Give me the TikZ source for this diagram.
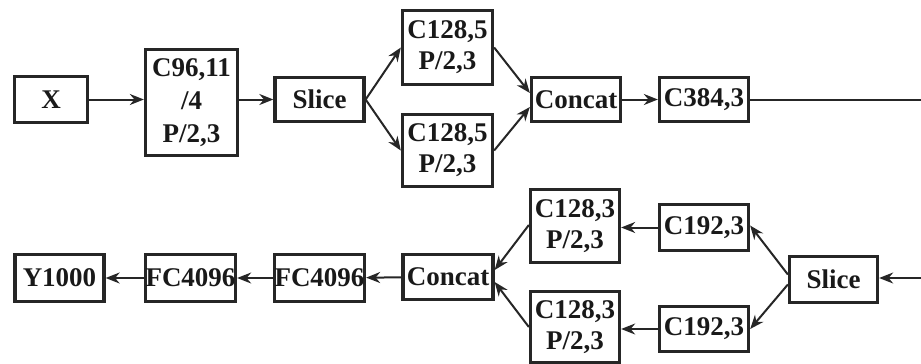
\documentclass[tikz,border=0pt]{standalone}
\usepackage{fontspec}
\setmainfont{Liberation Serif}
\usetikzlibrary{arrows.meta}
\begin{document}
\begin{tikzpicture}[x=1pt,y=-1pt,
  blk/.style={draw=black!85, line width=3.3pt, inner sep=0pt, align=center,
    font=\fontsize{27}{31}\selectfont\bfseries, text=black!90},
  arr/.style={line width=2pt, draw=black!85, -{Stealth[length=14pt,width=11pt]}},
  ln/.style={line width=2pt, draw=black!85}]
\useasboundingbox (0,0) rectangle (921,364);
% top row
\node[blk, minimum width=73pt, minimum height=46pt] (x) at (51,99.5) {X};
\node[blk, minimum width=92pt, minimum height=106pt] (c96) at (191.5,102.5) {C96,11\\[2pt]/4\\[2pt]P/2,3};
\node[blk, minimum width=89pt, minimum height=44pt] (s1) at (319.5,99.5) {Slice};
\node[blk, minimum width=90pt, minimum height=74pt] (ca) at (447.5,47.5) {C128,5\\P/2,3};
\node[blk, minimum width=90pt, minimum height=72pt] (cb) at (447.5,150.5) {C128,5\\P/2,3};
\node[blk, minimum width=89pt, minimum height=44pt] (cc1) at (576,99.5) {Concat};
\node[blk, minimum width=89pt, minimum height=44pt] (c384) at (704,99.5) {C384,3};
\coordinate (r1) at (921,99.5);
% bottom row
\node[blk, minimum width=89pt, minimum height=47pt] (y) at (59.5,278) {Y1000};
\node[blk, minimum width=90pt, minimum height=47pt] (f1) at (190.5,278) {FC4096};
\node[blk, minimum width=89pt, minimum height=47pt] (f2) at (319.5,278) {FC4096};
\node[blk, minimum width=90pt, minimum height=45pt] (cc2) at (448,277) {Concat};
\node[blk, minimum width=89pt, minimum height=73pt] (d1) at (575,226) {C128,3\\P/2,3};
\node[blk, minimum width=89pt, minimum height=71pt] (d2) at (575,327) {C128,3\\P/2,3};
\node[blk, minimum width=89pt, minimum height=46pt] (e1) at (704,227.5) {C192,3};
\node[blk, minimum width=89pt, minimum height=45pt] (e2) at (704,329) {C192,3};
\node[blk, minimum width=88pt, minimum height=46pt] (s2) at (833.5,279.5) {Slice};
\coordinate (r2) at (921,278);
% top connectors
\draw[arr] (x) -- (c96.west |- x);
\draw[arr] (c96.east |- s1.west) -- (s1.west);
\draw[arr] (s1.east) -- (ca.west);
\draw[arr] (s1.east) -- (cb.west);
\draw[arr] (ca.east) -- ([yshift=6.5pt]cc1.west);
\draw[arr] (cb.east) -- ([yshift=-7.5pt]cc1.west);
\draw[arr] (cc1) -- (c384);
\draw[ln] (c384.east) -- (r1);
% bottom connectors
\draw[arr] (r2) -- (s2.east |- r2);
\draw[arr] ([yshift=5pt]s2.west) -- ([yshift=2pt]e1.east);
\draw[arr] ([yshift=-5pt]s2.west) -- (e2.east);
\draw[arr] (e1.west) -- (d1.east |- e1.west);
\draw[arr] (e2.west) -- (d2.east |- e2.west);
\draw[arr] ([yshift=1pt]d1.west) -- ([yshift=7pt]cc2.east);
\draw[arr] (d2.west) -- ([yshift=-5pt]cc2.east);
\draw[arr] (cc2) -- (f2);
\draw[arr] (f2) -- (f1);
\draw[arr] (f1) -- (y);
\end{tikzpicture}
\end{document}
